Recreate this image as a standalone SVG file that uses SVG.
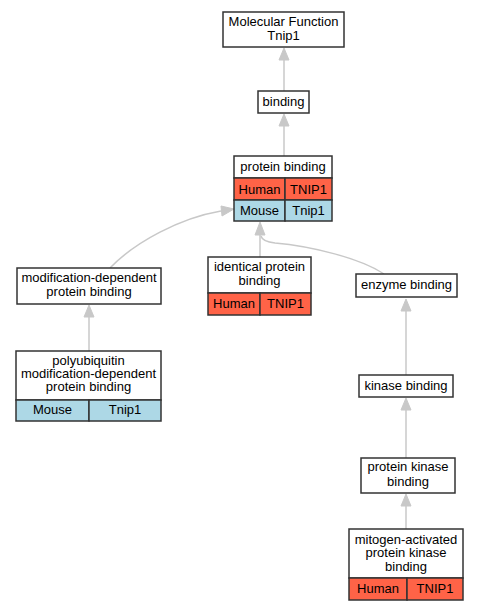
<svg xmlns="http://www.w3.org/2000/svg" width="477" height="611" viewBox="0 0 477 611">
<style>
.box{fill:#fff;stroke:#333;stroke-width:1.5}
.hu{fill:#ff6347;stroke:#333;stroke-width:1.5}
.mo{fill:#add8e6;stroke:#333;stroke-width:1.5}
text{font-family:"Liberation Sans",Arial,sans-serif;font-size:13px;text-anchor:middle;fill:#000}
.edge{fill:none;stroke:#c8c8c8;stroke-width:1.5}
.head{fill:#c8c8c8;stroke:#c8c8c8;stroke-width:1}
</style>
<rect width="477" height="611" fill="#fff"/>
<g id="edges">
<path class="edge" d="M284,91 L284,60"/>
<polygon class="head" points="284,48 279,60 289,60"/>
<path class="edge" d="M284,156 L284,126"/>
<polygon class="head" points="284,114 279,126 289,126"/>
<path class="edge" d="M110,268 C135,242 180,218 221,211"/>
<polygon class="head" points="234,209 221,206 222,216"/>
<path class="edge" d="M260,257 L260,235"/>
<polygon class="head" points="260,222 255,235 265,235"/>
<path class="edge" d="M384,274 C360,258 310,246 275,243 C266,242 262,240 261,236"/>
<path class="edge" d="M89,351 L89,317"/>
<polygon class="head" points="89,305 84,317 94,317"/>
<path class="edge" d="M406,375 L406,311"/>
<polygon class="head" points="406,299 401,311 411,311"/>
<path class="edge" d="M406,458 L406,410"/>
<polygon class="head" points="406,398 401,410 411,410"/>
<path class="edge" d="M406,529 L406,506"/>
<polygon class="head" points="406,494 401,506 411,506"/>
</g>
<g id="mf">
<rect class="box" x="223" y="12" width="121" height="35"/>
<text x="283.5" y="26">Molecular Function</text>
<text x="283.5" y="39.5">Tnip1</text>
</g>
<g id="binding">
<rect class="box" x="258" y="91" width="51" height="22"/>
<text x="283.5" y="106">binding</text>
</g>
<g id="protein-binding">
<rect class="box" x="234" y="156" width="98" height="22"/>
<text x="283" y="171">protein binding</text>
<rect class="hu" x="234" y="178" width="51" height="22"/>
<rect class="hu" x="285" y="178" width="47" height="22"/>
<text x="259.5" y="193.5">Human</text>
<text x="308.5" y="193.5">TNIP1</text>
<rect class="mo" x="234" y="200" width="51" height="21"/>
<rect class="mo" x="285" y="200" width="47" height="21"/>
<text x="259.5" y="215">Mouse</text>
<text x="308.5" y="215">Tnip1</text>
</g>
<g id="mod-dep">
<rect class="box" x="17" y="268" width="144" height="36"/>
<text x="89" y="282">modification-dependent</text>
<text x="89" y="295.5">protein binding</text>
</g>
<g id="identical">
<rect class="box" x="208" y="257" width="103" height="36"/>
<text x="259.5" y="271">identical protein</text>
<text x="259.5" y="285">binding</text>
<rect class="hu" x="208" y="293" width="52" height="22"/>
<rect class="hu" x="260" y="293" width="51" height="22"/>
<text x="234" y="307.5">Human</text>
<text x="285.5" y="307.5">TNIP1</text>
</g>
<g id="enzyme">
<rect class="box" x="356" y="274" width="101" height="23"/>
<text x="406.5" y="289">enzyme binding</text>
</g>
<g id="polyubiquitin">
<rect class="box" x="16" y="351" width="145" height="49"/>
<text x="88.5" y="364.5">polyubiquitin</text>
<text x="88.5" y="378">modification-dependent</text>
<text x="88.5" y="391">protein binding</text>
<rect class="mo" x="16" y="400" width="73" height="21"/>
<rect class="mo" x="89" y="400" width="72" height="21"/>
<text x="52.5" y="413.5">Mouse</text>
<text x="125" y="413.5">Tnip1</text>
</g>
<g id="kinase">
<rect class="box" x="359" y="375" width="94" height="22"/>
<text x="406" y="390">kinase binding</text>
</g>
<g id="protein-kinase">
<rect class="box" x="361" y="458" width="94" height="35"/>
<text x="408" y="471">protein kinase</text>
<text x="408" y="485.5">binding</text>
</g>
<g id="mapk">
<rect class="box" x="349" y="529" width="114" height="49"/>
<text x="406" y="543.5">mitogen-activated</text>
<text x="406" y="557">protein kinase</text>
<text x="406" y="570.5">binding</text>
<rect class="hu" x="349" y="578" width="58" height="22"/>
<rect class="hu" x="407" y="578" width="56" height="22"/>
<text x="378" y="592.5">Human</text>
<text x="435" y="592.5">TNIP1</text>
</g>
</svg>
